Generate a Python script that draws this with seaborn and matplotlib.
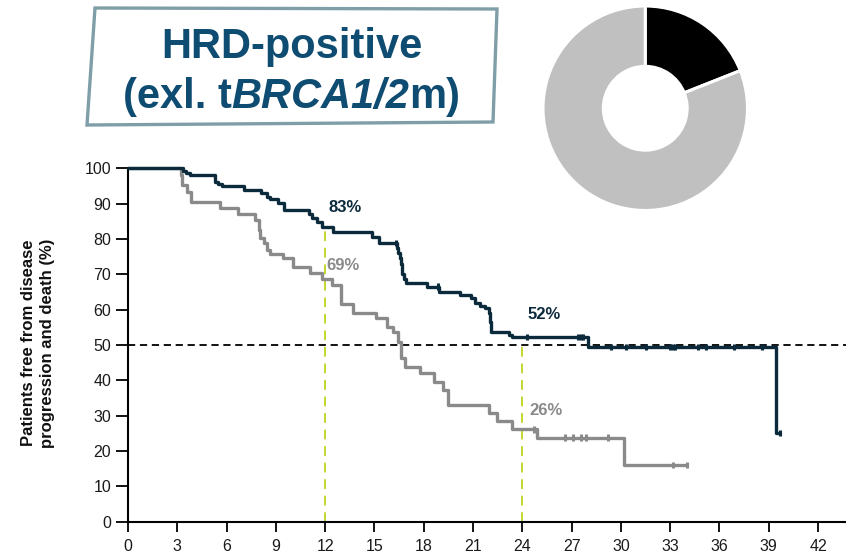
import matplotlib
matplotlib.use("Agg")
import matplotlib.pyplot as plt
from matplotlib.patches import Polygon
import seaborn as sns
import pandas as pd

# ---------------- data ----------------
arm_names = ["HRD+ treatment", "HRD+ control"]

time_dark = [0, 3.37, 3.55, 3.8, 5.3, 5.5, 5.7, 7.05, 8.1, 8.45, 8.65, 9.15, 9.5,
             11.0, 11.2, 11.5, 11.8, 12.5, 14.85, 15.25, 16.35, 16.45, 16.55, 16.6,
             16.65, 16.7, 16.8, 16.95, 18.2, 18.9, 20.2, 20.9, 21.1, 21.4, 21.7,
             21.95, 22.05, 22.1, 23.2, 23.4, 28.0, 39.45, 39.7]
surv_dark = [100, 99.3, 98.8, 98.1, 96.2, 95.6, 95.0, 93.8, 92.9, 92.0, 91.2, 90.3, 88.2,
             87.0, 85.8, 84.9, 83.3, 82.1, 80.5, 78.8, 77.5, 76.0, 74.5, 73.0,
             71.5, 70.0, 68.8, 67.6, 66.5, 65.1, 64.1, 63.2, 61.8, 61.0, 60.4,
             59.0, 56.5, 53.8, 52.8, 52.2, 49.5, 25.1, 25.1]

time_gray = [0, 3.2, 3.3, 3.6, 3.84, 5.6, 6.7, 7.7, 7.95, 8.05, 8.25, 8.45, 8.65,
             9.45, 10.05, 11.1, 11.8, 12.4, 12.95, 13.7, 15.1, 15.75, 16.15, 16.45,
             16.6, 16.87, 17.8, 18.6, 19.2, 19.5, 21.95, 22.45, 23.4, 24.9, 30.2, 34.0]
surv_gray = [100, 98.0, 95.3, 93.4, 90.5, 88.7, 87.1, 85.4, 82.5, 80.2, 78.8, 76.9, 75.7,
             74.5, 72.2, 70.3, 68.6, 66.9, 61.6, 59.1, 57.6, 55.2, 53.8, 50.9,
             46.2, 43.9, 42.0, 39.6, 37.3, 33.0, 30.7, 28.6, 26.1, 23.8, 16.0, 16.0]

cens_time_dark = [16.3, 18.85, 24.3, 27.4, 27.55, 27.7, 29.4, 30.3, 31.5, 33.0, 33.15,
                  33.3, 34.7, 35.2, 36.9, 38.6, 39.7]
cens_surv_dark = [78.8, 66.5, 52.2, 52.2, 52.2, 52.2, 49.5, 49.5, 49.5, 49.5, 49.5,
                  49.5, 49.5, 49.5, 49.5, 49.5, 25.1]
cens_time_gray = [24.7, 26.6, 27.1, 27.6, 27.9, 29.2, 33.2, 34.0]
cens_surv_gray = [26.1, 23.8, 23.8, 23.8, 23.8, 23.8, 16.0, 16.0]

landmark_times = [12, 24]
landmark_tops = [83.3, 50]
label_dark = ["83%", "52%"]
label_dark_pos = [(12.2, 88.9), (24.3, 58.6)]
label_gray = ["69%", "26%"]
label_gray_pos = [(12.1, 72.6), (24.45, 31.4)]

donut_values = [19, 81]
x_ticks = list(range(0, 43, 3))
y_ticks = list(range(0, 101, 10))

# ---------------- style ----------------
DARK = "#0b2a3c"
GRAY = "#8a8a8a"
GREEN = "#c4d62c"
TITLE_C = "#0f4c72"
BOX_C = "#7f9ea8"

sns.set_theme(style="ticks")
plt.rcParams["font.family"] = ["Liberation Sans", "DejaVu Sans"]

W, H = 846, 557
fig = plt.figure(figsize=(W / 100, H / 100), dpi=100)
fig.patch.set_facecolor("white")

ax = fig.add_axes([128 / W, (H - 521.7) / H, 718 / W, 353.4 / H])

df = pd.concat([
    pd.DataFrame({"time": time_dark, "surv": surv_dark, "arm": arm_names[0]}),
    pd.DataFrame({"time": time_gray, "surv": surv_gray, "arm": arm_names[1]}),
], ignore_index=True)
cdf = pd.concat([
    pd.DataFrame({"time": cens_time_dark, "surv": cens_surv_dark, "arm": arm_names[0]}),
    pd.DataFrame({"time": cens_time_gray, "surv": cens_surv_gray, "arm": arm_names[1]}),
], ignore_index=True)
pal = {arm_names[0]: DARK, arm_names[1]: GRAY}

# reference lines
ax.axhline(50, color="black", lw=1.3, ls=(0, (4, 2.6)), zorder=1, clip_on=False)
for t, top in zip(landmark_times, landmark_tops):
    ax.plot([t, t], [0, top], color=GREEN, lw=1.4, ls=(0, (5, 3.5)), zorder=1)

sns.lineplot(data=df[df.arm == arm_names[1]], x="time", y="surv", hue="arm", palette=pal,
             drawstyle="steps-post", estimator=None, sort=False, lw=2.4,
             legend=False, ax=ax, clip_on=False, zorder=2)
sns.lineplot(data=df[df.arm == arm_names[0]], x="time", y="surv", hue="arm", palette=pal,
             drawstyle="steps-post", estimator=None, sort=False, lw=2.4,
             legend=False, ax=ax, clip_on=False, zorder=3)
sns.scatterplot(data=cdf, x="time", y="surv", hue="arm", palette=pal, marker="|",
                s=22, linewidth=2.2, legend=False, ax=ax, zorder=4, clip_on=False)

for txt, (x, y) in zip(label_dark, label_dark_pos):
    ax.text(x, y, txt, color=DARK, fontsize=12, fontweight="bold", ha="left", va="center")
for txt, (x, y) in zip(label_gray, label_gray_pos):
    ax.text(x, y, txt, color=GRAY, fontsize=12, fontweight="bold", ha="left", va="center")

ax.set_xlim(0, 43.7)
ax.set_ylim(0, 100)
ax.set_xticks(x_ticks)
ax.set_yticks(y_ticks)
ax.set_xlabel("")
ax.set_ylabel("")
for s in ["top", "right"]:
    ax.spines[s].set_visible(False)
for s in ["left", "bottom"]:
    ax.spines[s].set_color("black")
    ax.spines[s].set_linewidth(1.5)
ax.tick_params(axis="y", direction="out", length=9, width=1.3, labelsize=11.5,
               pad=3, color="black", labelcolor="#1a1a1a")
ax.tick_params(axis="x", direction="out", length=7.5, width=1.3, labelsize=11.5,
               pad=5, color="black", labelcolor="#1a1a1a")

fig.text(38 / W, (H - 343) / H, "Patients free from disease\nprogression and death (%)",
         rotation=90, ha="center", va="center", fontsize=12, fontweight="bold",
         linespacing=1.3, color="#111111")

# ---------------- donut ----------------
ax2 = fig.add_axes([542 / W, (H - 211.5) / H, 206.5 / W, 206.5 / H])
ax2.pie(donut_values, colors=["#000000", "#c0c0c0"], startangle=90, counterclock=False,
        wedgeprops=dict(width=0.59, edgecolor="white", linewidth=2.2))
ax2.set_xlim(-1.01, 1.01)
ax2.set_ylim(-1.01, 1.01)
ax2.axis("off")

# ---------------- title box ----------------
pts = [(95, 8), (497, 9), (493, 122), (87, 125)]
poly = Polygon([(x / W, (H - y) / H) for x, y in pts], closed=True, transform=fig.transFigure,
               facecolor="white", edgecolor=BOX_C, lw=2.4, zorder=0)
fig.add_artist(poly)

cx = 291.5
fig.text(cx / W, (H - 58.3) / H, "HRD-positive", ha="center", va="baseline",
         fontsize=30, fontweight="bold", color=TITLE_C)

pieces = [("(exl. t", "normal"), ("BRCA1/2", "italic"), ("m)", "normal")]
renderer = fig.canvas.get_renderer()
objs = []
for txt, style in pieces:
    t = fig.text(0, (H - 108.3) / H, txt, ha="left", va="baseline", fontsize=30,
                 fontweight="bold", fontstyle=style, color=TITLE_C)
    objs.append(t)
widths = [o.get_window_extent(renderer).width for o in objs]
total = sum(widths)
x0 = cx - total / 2
for o, w in zip(objs, widths):
    o.set_x(x0 / W)
    x0 += w

fig.savefig("out.png", dpi=100, facecolor="white")
